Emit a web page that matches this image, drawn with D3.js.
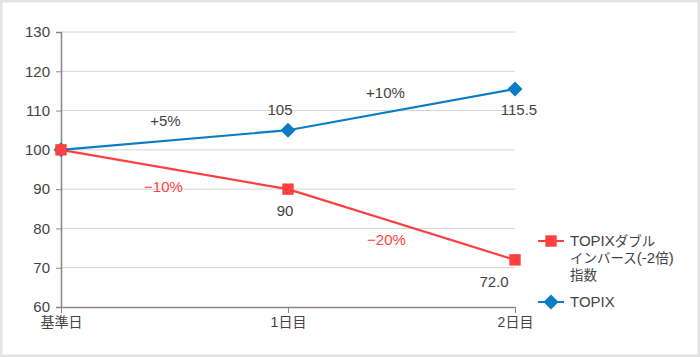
<!DOCTYPE html>
<html><head><meta charset="utf-8">
<script src="https://cdn.jsdelivr.net/npm/d3@7"></script>
<style>
html,body{margin:0;padding:0;background:#fff;}
svg{display:block;}
text{font-family:"Helvetica Neue",Arial,"Liberation Sans","Noto Sans CJK JP",sans-serif;}
</style></head><body>
<svg id="c" width="700" height="357"></svg>
<script>
const categories = ["基準日", "1日目", "2日目"];
const inverseValues = [100, 90, 72.0];
const topixValues = [100, 105, 115.5];
const inverseLabels = ["", "90", "72.0"];
const topixLabels = ["", "105", "115.5"];
const topixChangeLabels = ["+5%", "+10%"];
const inverseChangeLabels = ["−10%", "−20%"];
const yTicks = [60, 70, 80, 90, 100, 110, 120, 130];
const legendInverse = ["TOPIXダブル", "インバース(-2倍)", "指数"];
const legendTopix = "TOPIX";

const red = "#ff4040", blue = "#0a7cc4", txt = "#444";
const FS = 15, CJK = 13.5;
const svg = d3.select("#c");
svg.append("rect").attr("x",1).attr("y",1).attr("width",698).attr("height",355)
  .attr("fill","#fff").attr("stroke","#e3e3e3").attr("stroke-width",3);

const x = d3.scalePoint().domain(categories).range([61, 515]);
const y = d3.scaleLinear().domain([60, 130]).range([307, 32]);

// mixed text: Latin at FS, CJK smaller
function mixed(sel, str){
  const parts = str.match(/[\u3000-\u9fff\u30a0-\u30ff]+|[^\u3000-\u9fff\u30a0-\u30ff]+/g);
  parts.forEach(p=>{
    const cj = /[\u3000-\u9fff\u30a0-\u30ff]/.test(p);
    sel.append("tspan").attr("font-size", cj?CJK:FS).text(p);
  });
}

// gridlines
svg.append("g").selectAll("line").data(yTicks.filter(d=>d>60)).join("line")
  .attr("x1",61).attr("x2",515).attr("y1",d=>y(d)).attr("y2",d=>y(d))
  .attr("stroke","#d4d4d4").attr("stroke-width",1);

// y axis
const ya = svg.append("g").attr("transform","translate(61,0)")
  .call(d3.axisLeft(y).tickValues(yTicks).tickSize(5).tickPadding(6));
ya.select(".domain").attr("stroke","#888").attr("stroke-width",1.5);
ya.selectAll(".tick line").attr("stroke","#888");
ya.selectAll("text").attr("font-size",FS).attr("fill",txt);

// x axis
const xa = svg.append("g").attr("transform","translate(0,307)")
  .call(d3.axisBottom(x).tickSize(6).tickSizeOuter(0).tickPadding(4));
xa.select(".domain").attr("stroke","#888").attr("stroke-width",1.5);
xa.selectAll(".tick line").attr("stroke","#888");
xa.selectAll("text").attr("font-size",14).attr("fill",txt);

const line = d3.line().x((d,i)=>x(categories[i])).y(d=>y(d));
svg.append("path").datum(topixValues).attr("d",line).attr("fill","none").attr("stroke",blue).attr("stroke-width",2.2);
svg.append("path").datum(inverseValues).attr("d",line).attr("fill","none").attr("stroke",red).attr("stroke-width",2.2);

const sq = d3.symbol().type(d3.symbolSquare).size(130);
const diaPath = "M0,-7.5L7.5,0L0,7.5L-7.5,0Z";
svg.append("g").selectAll("path").data(topixValues).join("path")
  .attr("d",diaPath).attr("fill",blue)
  .attr("transform",(d,i)=>`translate(${x(categories[i])},${y(d)})`);
svg.append("g").selectAll("path").data(inverseValues).join("path")
  .attr("d",sq).attr("fill",red)
  .attr("transform",(d,i)=>`translate(${x(categories[i])},${y(d)})`);

// value labels
const vl = svg.append("g").attr("font-size",FS).attr("fill",txt).attr("text-anchor","middle");
topixLabels.forEach((t,i)=>{ if(!t) return;
  vl.append("text").attr("x",x(categories[i])+(i===2?4:-8)).attr("y",y(topixValues[i])+(i===2?26:-15)).text(t);});
inverseLabels.forEach((t,i)=>{ if(!t) return;
  vl.append("text").attr("x",x(categories[i])+(i===2?-21:-3)).attr("y",y(inverseValues[i])+27).text(t);});

// change labels
const mid = i => (x(categories[i])+x(categories[i+1]))/2;
topixChangeLabels.forEach((t,i)=>{
  vl.append("text").attr("x",mid(i)-9 - i*7).attr("y",y((topixValues[i]+topixValues[i+1])/2)-14 + i*2).text(t);});
inverseChangeLabels.forEach((t,i)=>{
  vl.append("text").attr("x",mid(i)-11 - i*4).attr("y",y((inverseValues[i]+inverseValues[i+1])/2)+22 - i*2).attr("fill",red).text(t);});

// legend
const lg = svg.append("g");
lg.append("line").attr("x1",538).attr("x2",564).attr("y1",241).attr("y2",241).attr("stroke",red).attr("stroke-width",2);
lg.append("path").attr("d",sq).attr("fill",red).attr("transform","translate(551,241)");
legendInverse.forEach((t,i)=>{
  const tx = lg.append("text").attr("x",570).attr("y",246+i*17).attr("fill",txt);
  mixed(tx, t);
});
lg.append("line").attr("x1",538).attr("x2",564).attr("y1",302).attr("y2",302).attr("stroke",blue).attr("stroke-width",2);
lg.append("path").attr("d",diaPath).attr("fill",blue).attr("transform","translate(551,302)");
lg.append("text").attr("x",570).attr("y",307).attr("font-size",FS).attr("fill",txt).text(legendTopix);
</script>
</body></html>
